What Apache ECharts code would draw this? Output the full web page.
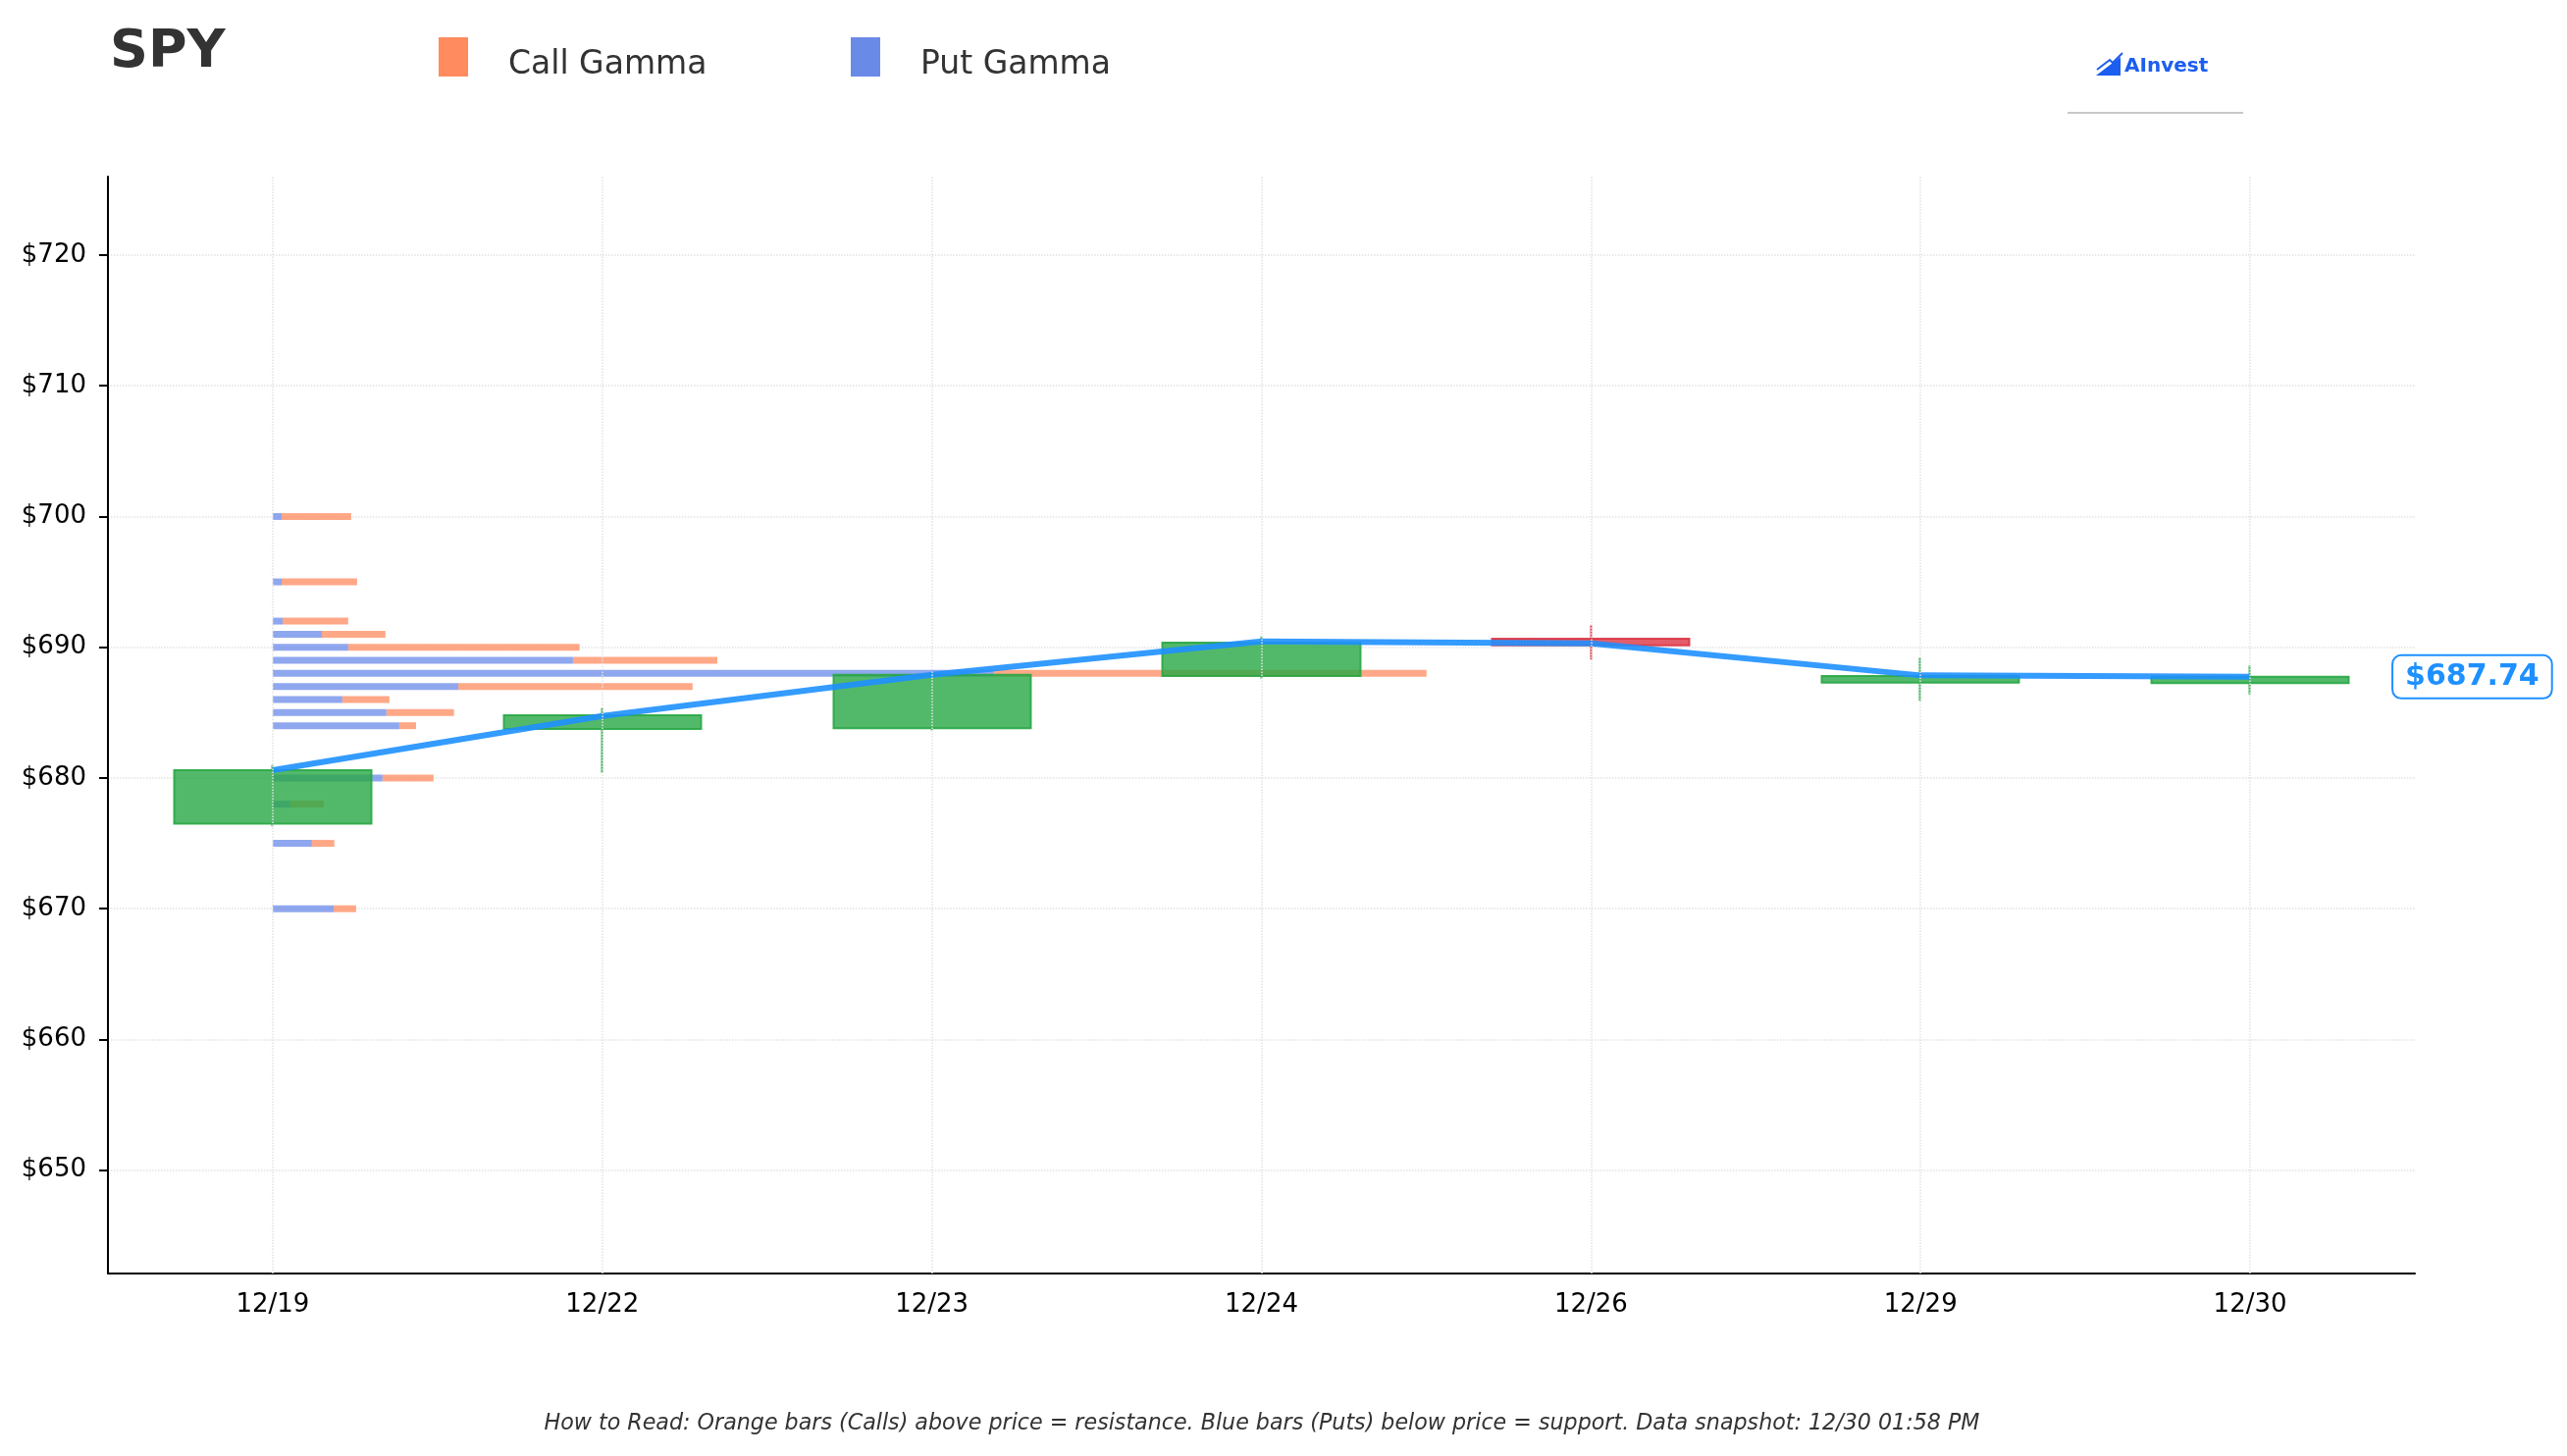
<!DOCTYPE html>
<html>
<head>
<meta charset="utf-8">
<title>SPY — gamma par strike</title>
<script src="https://cdn.jsdelivr.net/npm/echarts@6/dist/echarts.min.js"></script>
<style>
  html, body { margin: 0; padding: 0; background: #fff; }
  #chart { width: 2616px; height: 1484px; }
</style>
</head>
<body>
<div id="chart"></div>
<script>
// — séances —
const dates = ["12/19", "12/22", "12/23", "12/24", "12/26", "12/29", "12/30"];
// OHLC : [open, close, low, high]
const candles = [
  [676.5, 680.6, 676.3, 681.0],
  [683.75, 684.8, 680.4, 685.35],
  [683.8, 687.9, 683.65, 688.1],
  [687.8, 690.35, 687.6, 690.85],
  [690.65, 690.15, 689.05, 691.7],
  [687.3, 687.8, 685.9, 689.2],
  [687.25, 687.74, 686.4, 688.6],
];
const priceLine = [680.6, 684.75, 687.9, 690.45, 690.3, 687.85, 687.74];

// — gamma par strike (unités relatives : 100 = largeur d'une séance) —
const strikes   = [700, 695, 692, 691, 690, 689, 688, 687, 686, 685, 684, 680, 678, 675, 670];
const putGamma  = [2.7, 2.7, 3.0, 14.9, 22.9, 91.1, 218.8, 56.3, 21.1, 34.5, 38.4, 33.3, 5.4, 11.9, 18.5];
const callGamma = [21.1, 22.9, 19.9, 19.3, 70.2, 43.8, 131.3, 71.1, 14.3, 20.5, 5.1, 15.5, 10.1, 6.8, 6.8];

const yTicks = [650, 660, 670, 680, 690, 700, 710, 720];
const legendItems = [["Call Gamma", "#FF8B5F"], ["Put Gamma", "#6A8AE8"]];

const CALL = legendItems[0][1], PUT = legendItems[1][1], LINE = "#1E90FF";
const GRIDLINE = { type: "dotted", color: "#e2e2e2", width: 1.5 };

const chart = echarts.init(document.getElementById("chart"), null, { renderer: "canvas" });

// barre horizontale : put de 0 à put, call empilé derrière
function gammaBar(which, fill) {
  return function (params, api) {
    const y = api.value(0), put = api.value(1), call = api.value(2);
    const x0 = which === "put" ? 0 : put;
    const x1 = which === "put" ? put : put + call;
    const a = api.coord([x0, y]), b = api.coord([x1, y]);
    const h = 7;
    return { type: "rect", shape: { x: a[0], y: a[1] - h / 2, width: b[0] - a[0], height: h },
             style: { fill: fill } };
  };
}
const gammaData = strikes.map((s, i) => [s, putGamma[i], callGamma[i]]);
const last = priceLine[priceLine.length - 1];

// légende dessinée à la main (carré haut + libellé décalé comme l'original)
const legendGraphic = [];
legendItems.forEach(([name, color], i) => {
  const x = 447 + i * 420;
  legendGraphic.push({ type: "rect", shape: { x: x, y: 38, width: 30, height: 40 }, style: { fill: color } });
  legendGraphic.push({ type: "text", x: x + 71, y: 66,
    style: { text: name, fontSize: 33, fill: "#333", fontFamily: "DejaVu Sans", verticalAlign: "middle" } });
});

chart.setOption({
  animation: false,
  textStyle: { fontFamily: "DejaVu Sans" },
  title: {
    text: "SPY", left: 107, top: 22,
    textStyle: { fontSize: 54, fontWeight: "bold", color: "#333" },
  },
  grid: { left: 110, right: 155, top: 180, bottom: 186 },
  xAxis: [
    { type: "category", data: dates, boundaryGap: true,
      axisLine: { lineStyle: { color: "#000", width: 2 } },
      axisTick: { alignWithLabel: true, length: 9, lineStyle: { color: "#000", width: 2 } },
      axisLabel: { fontSize: 26, color: "#000", margin: 19 },
      splitLine: { show: false } },
    { type: "value", min: -50, max: 650, show: false },
  ],
  yAxis: {
    type: "value", min: 642.1, max: 726, splitNumber: 8, scale: true,
    axisLine: { show: true, onZero: false, lineStyle: { color: "#000", width: 2 } },
    axisTick: { show: true, length: 9, customValues: yTicks, lineStyle: { color: "#000", width: 2 } },
    axisLabel: { customValues: yTicks, formatter: (v) => "$" + v, fontSize: 26, color: "#000",
                 margin: 22 },
    splitLine: { show: true, lineStyle: GRIDLINE },
  },
  series: [
    { // grille verticale sur les séances
      type: "line", data: [], silent: true, z: 0,
      markLine: { silent: true, symbol: ["none", "none"], label: { show: false },
                  lineStyle: GRIDLINE, data: dates.map((d) => ({ xAxis: d })) },
    },
    { name: "Call Gamma", type: "custom", xAxisIndex: 1, yAxisIndex: 0, z: 1,
      itemStyle: { color: CALL }, encode: { x: [1, 2], y: 0 },
      renderItem: gammaBar("call", "rgba(255,139,95,0.75)"), data: gammaData },
    { name: "Put Gamma", type: "custom", xAxisIndex: 1, yAxisIndex: 0, z: 1,
      itemStyle: { color: PUT }, encode: { x: [1, 2], y: 0 },
      renderItem: gammaBar("put", "rgba(106,138,232,0.75)"), data: gammaData },
    { type: "candlestick", name: "SPY", data: candles, barWidth: "60%", z: 2,
      itemStyle: { color: "rgba(40,167,69,0.8)", color0: "rgba(220,53,69,0.8)",
                   borderColor: "rgba(40,167,69,0.9)", borderColor0: "rgba(220,53,69,0.9)",
                   borderWidth: 2 } },
    { type: "line", name: "Prix", data: priceLine, z: 3, showSymbol: false, symbol: "none",
      lineStyle: { color: LINE, width: 6, opacity: 0.9 },
      endLabel: { show: true, formatter: () => "$" + last.toFixed(2), distance: 146,
                  color: LINE, fontSize: 30, fontWeight: "bold", backgroundColor: "#fff",
                  borderColor: LINE, borderWidth: 2, borderRadius: 8, padding: [6, 12] } },
  ],
  graphic: legendGraphic.concat([
    // logo AInvest
    { type: "polygon", shape: { points: [[2136, 77], [2161, 58], [2161, 77]] },
      style: { fill: "#1B5EF0" } },
    { type: "polyline", shape: { points: [[2137, 71], [2150, 61], [2153, 64], [2163, 54]] },
      style: { stroke: "#1B5EF0", lineWidth: 2, fill: null } },
    { type: "text", x: 2165, y: 68,
      style: { text: "AInvest", fontSize: 20, fontWeight: "bold", fill: "#1B5EF0",
               fontFamily: "DejaVu Sans", verticalAlign: "middle" } },
    { type: "line", shape: { x1: 2107, y1: 115, x2: 2286, y2: 115 },
      style: { stroke: "#c8c8c8", lineWidth: 2 } },
    // note de lecture
    { type: "text", x: 1286, y: 1451,
      style: { text: "How to Read: Orange bars (Calls) above price = resistance. Blue bars (Puts) below price = support. Data snapshot: 12/30 01:58 PM",
               fontSize: 22.2, fontStyle: "italic", fill: "#333", fontFamily: "DejaVu Sans",
               align: "center", verticalAlign: "middle" } },
  ]),
});
</script>
</body>
</html>
